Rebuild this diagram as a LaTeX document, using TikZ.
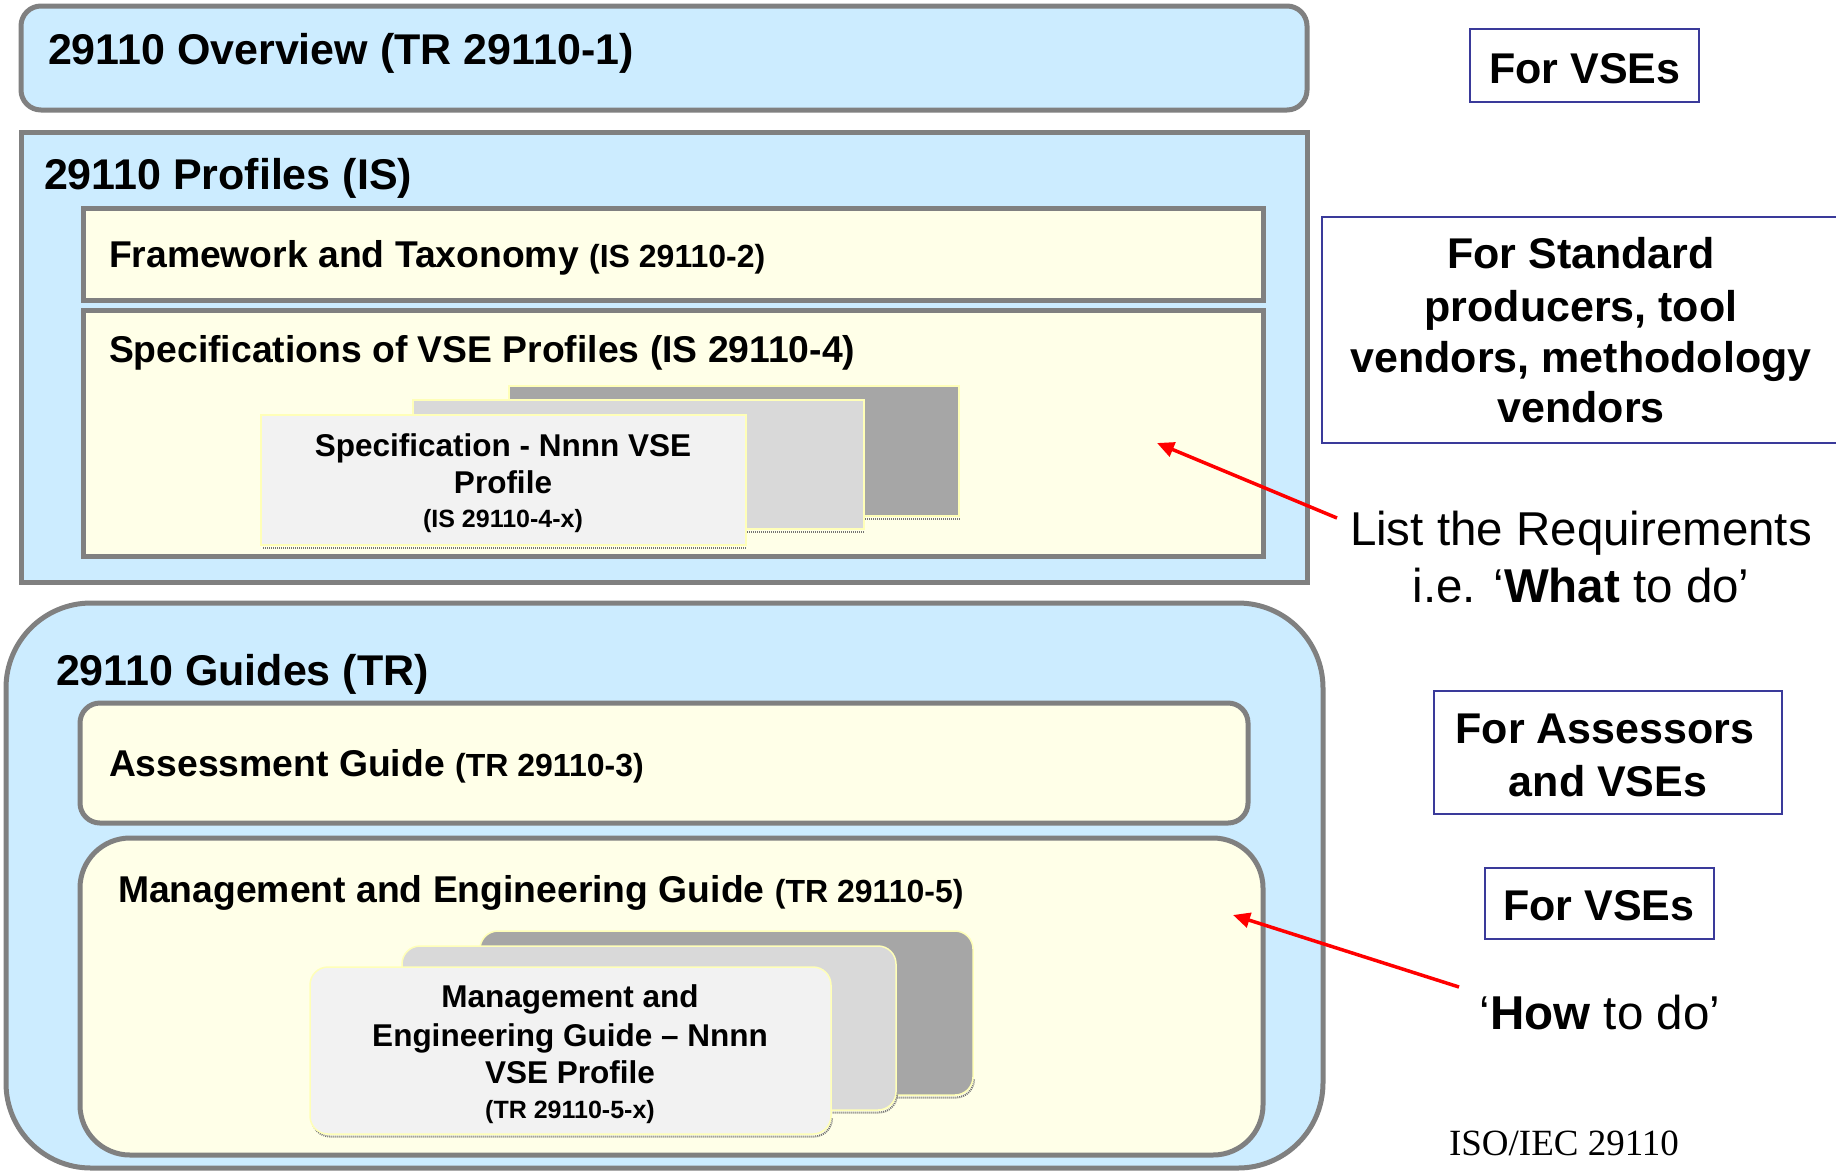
\documentclass[tikz,border=0pt]{standalone}
\usepackage{fontspec}
\setmainfont{Liberation Sans}
\newfontfamily\tnr{Liberation Serif}
\usetikzlibrary{arrows.meta}
\definecolor{lblue}{HTML}{CCECFF}
\definecolor{ivory}{HTML}{FFFFE8}
\definecolor{bord}{HTML}{808080}
\definecolor{navy}{HTML}{3A3A9A}
\definecolor{pgA}{HTML}{A6A6A6}
\definecolor{pgB}{HTML}{D9D9D9}
\definecolor{pgC}{HTML}{F2F2F2}
\definecolor{pgedge}{HTML}{FFFFB8}
\definecolor{arrred}{HTML}{FF0000}
\tikzset{
  panel/.style={draw=bord, line width=5pt, inner sep=0pt, outer sep=0pt, anchor=north west},
  bluepanel/.style={panel, fill=lblue},
  ivorypanel/.style={panel, fill=ivory},
  page/.style={draw=pgedge, line width=1.5pt, inner sep=0pt, outer sep=0pt, anchor=north west},
  tag/.style={draw=navy, line width=2pt, fill=white, inner sep=0pt, outer sep=0pt, anchor=north west},
  txt/.style={inner sep=0pt, outer sep=0pt},
  big/.style={txt, font=\fontsize{43}{51}\selectfont\bfseries},
  mid/.style={txt, font=\fontsize{37.3}{44}\selectfont\bfseries},
  pgfont/.style={txt, font=\fontsize{31.5}{38}\selectfont\bfseries},
  pgsmall/.style={txt, font=\fontsize{25}{30}\selectfont\bfseries},
  plain/.style={txt, font=\fontsize{47.5}{57}\selectfont},
  redarrow/.style={draw=arrred, line width=3.5pt, -{Triangle[length=17pt,width=15pt]}},
}
\newcommand{\sm}[1]{{\fontsize{32}{38}\selectfont #1}}
\begin{document}
\begin{tikzpicture}[x=1pt,y=-1pt]
\useasboundingbox (0,0) rectangle (1836,1171);

% ---------- Overview ----------
\node[bluepanel, rounded corners=20pt, minimum width=1286pt, minimum height=104pt] (ov) at (21,6) {};
\node[big, anchor=base west] (ovt) at (48,64) {29110 Overview (TR 29110-1)};

% ---------- Profiles ----------
\node[bluepanel, minimum width=1286pt, minimum height=450pt] (prof) at (21,132) {};
\node[big, anchor=base west] (proft) at (44,189) {29110 Profiles (IS)};

\node[ivorypanel, minimum width=1180pt, minimum height=92pt] (fw) at (83,208) {};
\node[mid, anchor=base west] (fwt) at (109,267) {Framework and Taxonomy \sm{(IS 29110-2)}};

\node[ivorypanel, minimum width=1180pt, minimum height=246pt] (spec) at (83,310) {};
\node[mid, anchor=base west] (spect) at (109,362) {Specifications of VSE Profiles (IS 29110-4)};

% stacked pages (spec)
\draw[pgA!70!black, line width=2pt, dash pattern=on 1pt off 1pt] (511,518.5) -- (960,518.5);
\node[page, fill=pgA, minimum width=450pt, minimum height=130pt] (sp1) at (509,386) {};
\draw[pgA!70!black, line width=2pt, dash pattern=on 1pt off 1pt] (415,531.5) -- (865,531.5);
\node[page, fill=pgB, minimum width=451pt, minimum height=129pt] (sp2) at (413,400) {};
\draw[pgA!70!black, line width=2pt, dash pattern=on 1pt off 1pt] (263,547.5) -- (747,547.5);
\node[page, fill=pgC, minimum width=485pt, minimum height=130pt] (sp3) at (261,415) {};
\node[pgfont, anchor=base] (sp3a) at (503,456) {Specification - Nnnn VSE};
\node[pgfont, anchor=base] (sp3b) at (503,493) {Profile};
\node[pgsmall, anchor=base] (sp3c) at (503,527) {(IS 29110-4-x)};

% ---------- Guides ----------
\node[bluepanel, rounded corners=85pt, minimum width=1317pt, minimum height=565pt] (guid) at (6,603) {};
\node[big, anchor=base west] (guidt) at (56,685) {29110 Guides (TR)};

\node[ivorypanel, rounded corners=20pt, minimum width=1168pt, minimum height=120pt] (ass) at (80,703) {};
\node[mid, anchor=base west] (asst) at (109,776) {Assessment Guide \sm{(TR 29110-3)}};

\node[ivorypanel, rounded corners=50pt, minimum width=1183pt, minimum height=317pt] (meg) at (80,838) {};
\node[mid, anchor=base west] (megt) at (118,902) {Management and Engineering Guide \sm{(TR 29110-5)}};

% stacked pages (guides)
\draw[pgA!70!black, line width=2pt, dash pattern=on 1pt off 1pt, rounded corners=18pt] (482,1080) -- (482,1097.5) -- (974,1097.5) -- (974,1080);
\node[page, fill=pgA, rounded corners=18pt, minimum width=493pt, minimum height=164pt] (mp1) at (480,931) {};
\draw[pgA!70!black, line width=2pt, dash pattern=on 1pt off 1pt, rounded corners=18pt] (404,1095) -- (404,1112.5) -- (897,1112.5) -- (897,1095);
\node[page, fill=pgB, rounded corners=18pt, minimum width=494pt, minimum height=164pt] (mp2) at (402,946) {};
\draw[pgA!70!black, line width=2pt, dash pattern=on 1pt off 1pt, rounded corners=18pt] (312,1119) -- (312,1136.5) -- (832,1136.5) -- (832,1119);
\node[page, fill=pgC, rounded corners=18pt, minimum width=521pt, minimum height=167pt] (mp3) at (310,967) {};
\node[pgfont, anchor=base] (mp3a) at (570,1007) {Management and};
\node[pgfont, anchor=base] (mp3b) at (570,1046) {Engineering Guide – Nnnn};
\node[pgfont, anchor=base] (mp3c) at (570,1083) {VSE Profile};
\node[pgsmall, anchor=base] (mp3d) at (570,1118) {(TR 29110-5-x)};

% ---------- Right column ----------
\node[tag, minimum width=229pt, minimum height=73pt] (v1) at (1470,29) {};
\node[big, anchor=base] (v1t) at (1585,83) {For VSEs};

\node[tag, minimum width=520pt, minimum height=226pt] (sp) at (1322,217) {};
\node[big, anchor=base] (spt1) at (1581,268) {For Standard};
\node[big, anchor=base] (spt2) at (1581,321) {producers, tool};
\node[big, anchor=base] (spt3) at (1581,372) {vendors, methodology};
\node[big, anchor=base] (spt4) at (1581,422) {vendors};

\node[plain, anchor=base] (req1) at (1581,545) {List the Requirements};
\node[plain, anchor=base] (req2) at (1581,602) {i.e. ‘\textbf{What} to do’};

\coordinate (a1s) at (1337,518);
\coordinate (a1e) at (1157,443);
\draw[redarrow] (a1s) -- (a1e);

\node[tag, minimum width=348pt, minimum height=123pt] (as) at (1434,691) {};
\node[big, anchor=base] (ast1) at (1605,743) {For Assessors};
\node[big, anchor=base] (ast2) at (1608,796) {and VSEs};

\node[tag, minimum width=229pt, minimum height=71pt] (v2) at (1485,868) {};
\node[big, anchor=base] (v2t) at (1599,920) {For VSEs};

\node[plain, anchor=base] (how) at (1600,1029) {‘\textbf{How} to do’};

\coordinate (a2s) at (1459,987);
\coordinate (a2e) at (1233,915);
\draw[redarrow] (a2s) -- (a2e);

\node[txt, font=\tnr\fontsize{37}{44}\selectfont, anchor=base] (iso) at (1564,1155) {ISO/IEC 29110};
\end{tikzpicture}
\end{document}
